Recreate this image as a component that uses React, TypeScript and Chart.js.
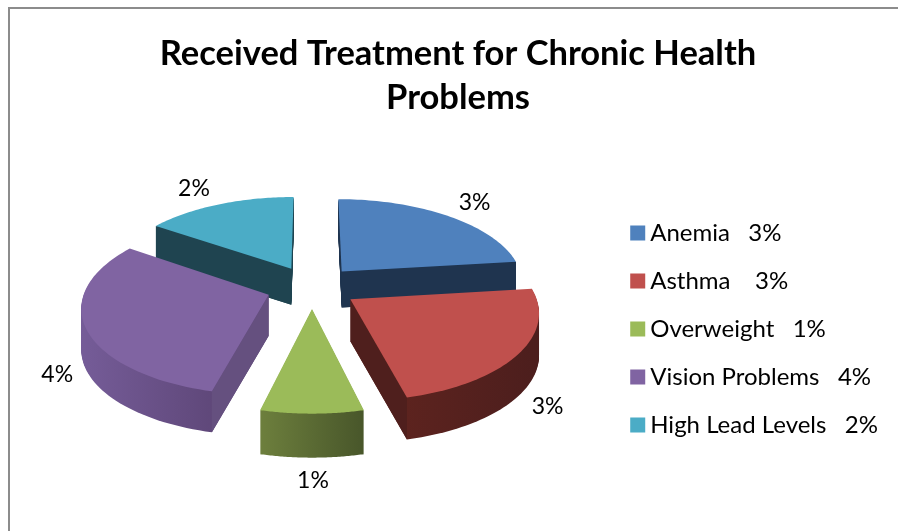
import React, { useEffect, useRef } from "react";
import { Chart, registerables } from "chart.js";

Chart.register(...registerables);

const categories = ["Anemia", "Asthma", "Overweight", "Vision Problems", "High Lead Levels"];
const percents = [3, 3, 1, 4, 2];
const legendGaps = ["   ", "    ", "   ", "   ", "   "];
const titleLines = ["Received Treatment for Chronic Health", "Problems"];

const topColors = ["#4f81bd", "#c0504d", "#9bbb59", "#8064a2", "#4bacc6"];
const cutColors = ["#1f344f", "#4f1f1d", "#5a6b33", "#65507f", "#1f4450"];
const rimLight = ["#1f344f", "#63251f", "#6d7f3d", "#755c98", "#1f4450"];
const rimDark = ["#1f344f", "#4c1e1d", "#48562a", "#563f6d", "#1f4450"];
const drawOrder = [4, 0, 3, 1, 2];

const FONT = "Lato, 'Open Sans', sans-serif";
const VIEW = { cx: 302, cy: 278, tilt: 0.1275, drop: 668, explode: 0.25, depth: 39, steps: 60 };

function project(X: number, Y: number, R: number) {
  const s = 1 / (1 - Y * VIEW.tilt);
  return { x: VIEW.cx + X * R * s, y: VIEW.cy + VIEW.drop * (s - 1), s };
}

function tracePath(ctx: CanvasRenderingContext2D, pts: { x: number; y: number }[], dy = 0) {
  ctx.beginPath();
  pts.forEach((p, n) => (n === 0 ? ctx.moveTo(p.x, p.y + dy) : ctx.lineTo(p.x, p.y + dy)));
  ctx.closePath();
}

const pie3d = {
  id: "pie3d",
  beforeDatasetDraw(chart: any) {
    const ctx = chart.ctx as CanvasRenderingContext2D;
    const arcs = chart.getDatasetMeta(0).data;
    for (const i of drawOrder) {
      const arc = arcs[i];
      const R = arc.outerRadius;
      const a0 = arc.startAngle;
      const a1 = arc.endAngle;
      const m = (a0 + a1) / 2;
      const ox = VIEW.explode * Math.cos(m);
      const oy = VIEW.explode * Math.sin(m);
      const apex = project(ox, oy, R);
      const rim = [];
      for (let n = 0; n <= VIEW.steps; n++) {
        const t = a0 + ((a1 - a0) * n) / VIEW.steps;
        rim.push(project(ox + Math.cos(t), oy + Math.sin(t), R));
      }
      const outline = [apex, ...rim];
      const mid = project(ox + 0.6 * Math.cos(m), oy + 0.6 * Math.sin(m), R);
      const dep = Math.round(VIEW.depth * mid.s);

      const xs = outline.map((p) => p.x);
      const grad = ctx.createLinearGradient(Math.min(...xs), 0, Math.max(...xs), 0);
      grad.addColorStop(0, rimLight[i]);
      grad.addColorStop(1, rimDark[i]);

      ctx.fillStyle = grad;
      for (let k = dep; k >= 1; k--) {
        tracePath(ctx, outline, k);
        ctx.fill();
      }

      // flat cut faces, only where they turn towards the viewer
      ctx.fillStyle = cutColors[i];
      for (const q of [rim[0], rim[rim.length - 1]]) {
        const dx = q.x - apex.x;
        const lineY = apex.y + ((q.y - apex.y) * (mid.x - apex.x)) / (dx === 0 ? 1e-6 : dx);
        if (mid.y < lineY) {
          tracePath(ctx, [apex, q, { x: q.x, y: q.y + dep }, { x: apex.x, y: apex.y + dep }]);
          ctx.fill();
        }
      }

      ctx.fillStyle = arc.options.backgroundColor;
      tracePath(ctx, outline);
      ctx.fill();
    }
    return false;
  },
  afterDatasetsDraw(chart: any) {
    const ctx = chart.ctx as CanvasRenderingContext2D;
    const arcs = chart.getDatasetMeta(0).data;
    ctx.save();
    ctx.font = `23px ${FONT}`;
    ctx.fillStyle = "#000";
    ctx.textAlign = "center";
    ctx.textBaseline = "middle";
    arcs.forEach((arc: any, i: number) => {
      const m = (arc.startAngle + arc.endAngle) / 2;
      const front = Math.sin(m) > 0;
      const k = front ? 1.4 : 1.58;
      const p = project(k * Math.cos(m), k * Math.sin(m), arc.outerRadius);
      const x = front ? p.x + 1 : p.x - 4;
      const y = front ? p.y + VIEW.depth * p.s + 1 : p.y + 3;
      ctx.fillText(`${percents[i]}%`, x, y);
    });
    ctx.restore();
  },
};

export default function App() {
  const ref = useRef<HTMLCanvasElement>(null);
  useEffect(() => {
    const chart = new Chart(ref.current as HTMLCanvasElement, {
      type: "pie",
      data: {
        labels: categories.map((c, i) => `${c}${legendGaps[i]}${percents[i]}%`),
        datasets: [
          {
            data: percents,
            backgroundColor: topColors,
            borderWidth: 0,
            radius: 183,
          } as any,
        ],
      },
      plugins: [pie3d as any],
      options: {
        animation: false,
        responsive: false,
        layout: { padding: { left: 18, right: 18, bottom: 70 } },
        plugins: {
          tooltip: { enabled: false },
          title: {
            display: true,
            text: titleLines,
            color: "#000",
            font: { family: FONT, size: 34.5, weight: "bold", lineHeight: 1.3 },
            padding: { top: 22, bottom: 20 },
          },
          legend: {
            display: true,
            position: "right",
            align: "end",
            labels: {
              color: "#000",
              font: { family: FONT, size: 24 },
              usePointStyle: true,
              pointStyle: "rect",
              boxWidth: 1,
              boxHeight: 15,
              padding: 24,
            },
          },
        },
      },
    });
    return () => chart.destroy();
  }, []);
  return (
    <div style={{ position: "absolute", left: 0, top: 0, width: 898, height: 531, overflow: "hidden", background: "#fff" }}>
      <div
        style={{
          position: "absolute",
          left: 8,
          top: 7,
          width: 890,
          height: 524,
          borderLeft: "2px solid #8c8c8c",
          borderTop: "2px solid #8c8c8c",
        }}
      />
      <canvas ref={ref} width={896} height={522} style={{ position: "absolute", left: 10, top: 9 }} />
    </div>
  );
}
